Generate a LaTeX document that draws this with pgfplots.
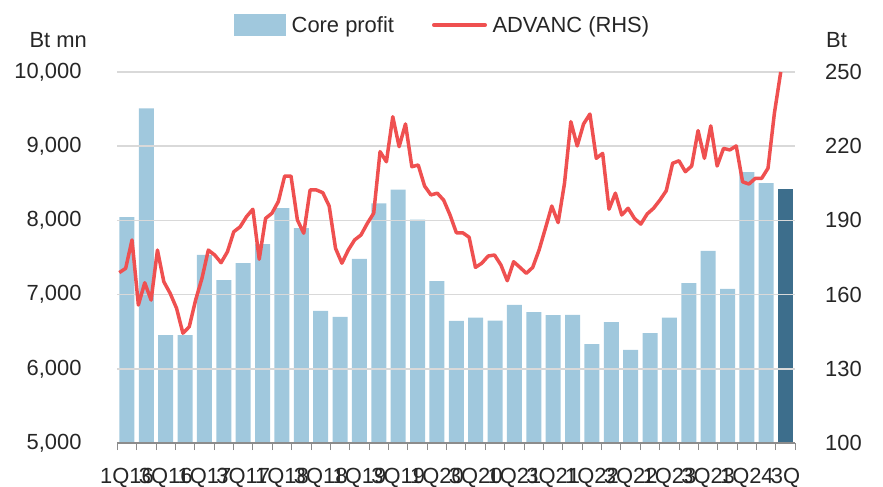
\documentclass[border=0pt]{standalone}
\usepackage{fontspec}
\setmainfont{Liberation Sans}
\usepackage{pgfplots}
\usepackage{pgfplotstable}
\pgfplotsset{compat=1.18}
\definecolor{barblue}{HTML}{A0C8DD}
\definecolor{bardark}{HTML}{3D6E8C}
\definecolor{advred}{HTML}{EF5050}
\definecolor{gridgray}{HTML}{D9D9D9}
\definecolor{axgray}{HTML}{8C8C8C}
\newcommand{\fz}{\fontsize{22}{26}\selectfont}

\pgfplotstableread{
i v
0 8045
1 9510
2 6455
3 6455
4 7535
5 7195
6 7425
7 7680
8 8165
9 7895
10 6780
11 6700
12 7480
13 8230
14 8415
15 8010
16 7180
17 6645
18 6690
19 6648
20 6860
21 6765
22 6722
23 6728
24 6334
25 6630
26 6255
27 6482
28 6688
29 7155
30 7588
31 7078
32 8650
33 8502
}\coreprofit

\pgfplotstableread{
i v
34 8420
}\coreprofitlast

\pgfplotstableread{
k v
0 168.9
1 170.6
2 182.1
3 155.8
4 164.8
5 157.8
6 178.0
7 165.2
8 160.5
9 154.5
10 144.4
11 147.0
12 157.8
13 166.6
14 178.0
15 176.0
16 172.9
17 177.3
18 185.4
19 187.4
20 191.5
21 194.5
22 174.3
23 190.8
24 192.9
25 197.6
26 207.9
27 207.9
28 190.2
29 184.8
30 202.3
31 202.3
32 201.2
33 195.8
34 178.7
35 172.7
36 178.0
37 182.1
38 184.1
39 188.8
40 192.9
41 217.8
42 213.7
43 231.9
44 219.8
45 229.0
46 211.7
47 212.4
48 203.9
49 200.3
50 201.0
51 198.2
52 192.2
53 185.0
54 185.0
55 183.2
56 171.0
57 172.7
58 175.6
59 176.0
60 172.0
61 165.6
62 173.3
63 171.0
64 168.6
65 171.0
66 178.0
67 186.8
68 195.8
69 189.1
70 205.0
71 229.9
72 220.1
73 229.0
74 233.0
75 215.1
76 217.1
77 194.5
78 201.0
79 192.2
80 194.9
81 190.8
82 188.5
83 192.6
84 194.9
85 198.2
86 202.0
87 213.1
88 214.1
89 209.7
90 212.0
91 226.3
92 215.1
93 228.2
94 212.0
95 219.1
96 218.5
97 220.1
98 205.6
99 204.7
100 207.0
101 207.0
102 211.1
103 233.3
104 250.0
}\advanc

\begin{document}
\begin{tikzpicture}[font=\fz]
\begin{axis}[
  scale only axis, width=678bp, height=371bp,
  at={(0,0)}, anchor=south west,
  clip=false,
  xmin=-0.5, xmax=34.5, ymin=5000, ymax=10000,
  axis x line*=bottom, axis y line*=left,
  y axis line style={draw=none},
  x axis line style={draw=axgray, line width=1.2bp},
  ytick={5000,6000,...,10000},
  ytick style={draw=none},
  scaled y ticks=false,
  /pgf/number format/1000 sep={,},
  /pgf/number format/assume math mode=true,
  tick label style={font=\fz, text=black!85},
  yticklabel style={anchor=east, inner sep=0pt, xshift=-35.6bp},
  xtick={0,2,...,34},
  xticklabels={1Q16,3Q16,1Q17,3Q17,1Q18,3Q18,1Q19,3Q19,1Q20,3Q20,1Q21,3Q21,1Q22,3Q22,1Q23,3Q23,1Q24,3Q},
  major x tick style={draw=none},
  major tick length=0pt,
  minor xtick={-0.5,0.5,...,34.5},
  minor tick length=7bp,
  tick align=outside,
  minor x tick style={draw=axgray, line width=1bp},
  xticklabel style={anchor=north, inner sep=0pt, yshift=-25bp},
  ymajorgrids, grid style={gridgray, line width=1.5bp},
  axis on top,
  ybar, bar width=15bp, bar shift=0pt,
  legend columns=2,
  legend style={draw=none, fill=none, inner sep=0pt,
    at={(axis description cs:0.1721,1.1267)}, anchor=west,
    font=\fz, text=black!85,
    nodes={inner sep=0pt},
    /tikz/every odd column/.style={column sep=5.5bp},
    /tikz/every even column/.style={column sep=38bp}},
]
\addplot[fill=barblue, draw=none,
  legend image code/.code={\fill[barblue] (0bp,-11bp) rectangle (52bp,11bp);}]
  table[x=i, y=v] {\coreprofit};
\addlegendentry{Core profit}
\addplot[fill=bardark, draw=none, forget plot] table[x=i, y=v] {\coreprofitlast};
\addlegendimage{legend image code/.code={\draw[advred, line width=3.5bp, line cap=round] (1.75bp,0bp) -- (53.25bp,0bp);}}
\addlegendentry{ADVANC (RHS)}
\node[anchor=east, inner sep=0pt, text=black!85] at (axis description cs:-0.0447,1.0863) {Bt mn};
\node[anchor=west, inner sep=0pt, text=black!85] at (axis description cs:1.0453,1.0863) {Bt};
\end{axis}
\begin{axis}[
  scale only axis, width=678bp, height=371bp,
  at={(0,0)}, anchor=south west,
  xmin=-0.314, xmax=106.29, ymin=100, ymax=250,
  axis x line=none, axis y line*=right,
  y axis line style={draw=none},
  ytick={100,130,...,250},
  ytick style={draw=none},
  /pgf/number format/assume math mode=true,
  tick label style={font=\fz, text=black!85},
  yticklabel style={anchor=west, inner sep=0pt, xshift=29.7bp},
]
\addplot[advred, line width=3.5bp, line join=round, no marks] table[x=k, y=v] {\advanc};
\end{axis}
\pgfresetboundingbox
\path[use as bounding box] (-117.3bp,-44bp) rectangle (765.7bp,443bp);
\end{tikzpicture}
\end{document}
